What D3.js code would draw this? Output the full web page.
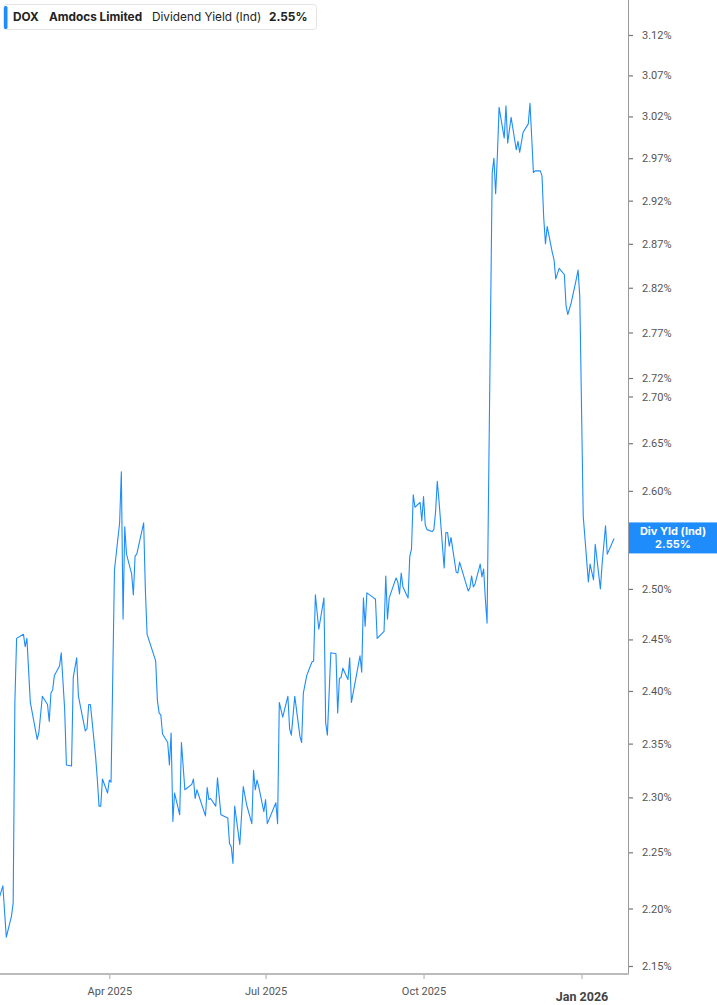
<!DOCTYPE html>
<html>
<head>
<meta charset="utf-8">
<script src="https://cdn.jsdelivr.net/npm/d3@7/dist/d3.min.js"></script>
<style>
  html, body { margin: 0; padding: 0; background: #fff; }
  svg { display: block; font-family: Inter, "Noto Sans", sans-serif; }
</style>
</head>
<body>
<svg id="dox_chart"></svg>
<script>
// DOX dividend yield (ind), daily closes
var dates = [
  "2025-01-27","2025-01-29","2025-01-31","2025-02-03","2025-02-04","2025-02-05","2025-02-06","2025-02-10",
  "2025-02-11","2025-02-12","2025-02-14","2025-02-18","2025-02-19","2025-02-21","2025-02-24","2025-02-25",
  "2025-02-26","2025-02-27","2025-02-28","2025-03-03","2025-03-04","2025-03-06","2025-03-07","2025-03-10",
  "2025-03-11","2025-03-13","2025-03-14","2025-03-18","2025-03-19","2025-03-20","2025-03-21","2025-03-24",
  "2025-03-25","2025-03-26","2025-03-27","2025-03-28","2025-03-31","2025-04-01","2025-04-02","2025-04-04",
  "2025-04-07","2025-04-08","2025-04-09","2025-04-10","2025-04-11","2025-04-14","2025-04-15","2025-04-16",
  "2025-04-17","2025-04-21","2025-04-22","2025-04-23","2025-04-28","2025-04-29","2025-04-30","2025-05-01",
  "2025-05-02","2025-05-05","2025-05-06","2025-05-07","2025-05-08","2025-05-09","2025-05-12","2025-05-13",
  "2025-05-15","2025-05-19","2025-05-20","2025-05-21","2025-05-22","2025-05-27","2025-05-28","2025-05-29",
  "2025-05-30","2025-06-02","2025-06-03","2025-06-05","2025-06-09","2025-06-10","2025-06-11","2025-06-12",
  "2025-06-13","2025-06-16","2025-06-18","2025-06-20","2025-06-23","2025-06-24","2025-06-25","2025-06-26",
  "2025-06-27","2025-06-30","2025-07-01","2025-07-02","2025-07-07","2025-07-08","2025-07-09","2025-07-11",
  "2025-07-14","2025-07-15","2025-07-16","2025-07-18","2025-07-21","2025-07-22","2025-07-23","2025-07-25",
  "2025-07-28","2025-07-29","2025-07-30","2025-08-01","2025-08-04","2025-08-05","2025-08-06","2025-08-08",
  "2025-08-11","2025-08-12","2025-08-13","2025-08-14","2025-08-15","2025-08-18","2025-08-19","2025-08-20",
  "2025-08-25","2025-08-26","2025-08-27","2025-08-28","2025-08-29","2025-09-02","2025-09-03","2025-09-04",
  "2025-09-08","2025-09-09","2025-09-10","2025-09-11","2025-09-15","2025-09-16","2025-09-17","2025-09-18",
  "2025-09-19","2025-09-22","2025-09-23","2025-09-24","2025-09-25","2025-09-26","2025-09-29","2025-09-30",
  "2025-10-01","2025-10-02","2025-10-03","2025-10-06","2025-10-07","2025-10-08","2025-10-09","2025-10-10",
  "2025-10-13","2025-10-14","2025-10-15","2025-10-16","2025-10-17","2025-10-20","2025-10-21","2025-10-22",
  "2025-10-27","2025-10-28","2025-10-29","2025-10-30","2025-10-31","2025-11-03","2025-11-04","2025-11-05",
  "2025-11-06","2025-11-07","2025-11-10","2025-11-11","2025-11-12","2025-11-13","2025-11-14","2025-11-17",
  "2025-11-18","2025-11-19","2025-11-21","2025-11-24","2025-11-25","2025-11-26","2025-11-28","2025-12-01",
  "2025-12-02","2025-12-03","2025-12-04","2025-12-05","2025-12-08","2025-12-09","2025-12-10","2025-12-11",
  "2025-12-12","2025-12-15","2025-12-16","2025-12-17","2025-12-19","2025-12-22","2025-12-23","2025-12-24",
  "2025-12-26","2025-12-29","2025-12-30","2025-12-31","2026-01-02","2026-01-05","2026-01-06","2026-01-08",
  "2026-01-09","2026-01-12","2026-01-13","2026-01-15","2026-01-16","2026-01-20"
];
var yields = [
  2.210,2.220,2.175,2.193,2.205,2.390,2.451,2.455,
  2.443,2.451,2.389,2.354,2.361,2.395,2.387,2.371,
  2.398,2.401,2.415,2.424,2.437,2.382,2.330,2.329,
  2.413,2.432,2.395,2.362,2.364,2.387,2.387,2.338,
  2.317,2.292,2.292,2.317,2.304,2.316,2.314,2.519,
  2.567,2.620,2.470,2.563,2.535,2.515,2.494,2.533,
  2.535,2.567,2.499,2.455,2.429,2.391,2.379,2.377,
  2.359,2.351,2.330,2.360,2.278,2.304,2.284,2.351,
  2.307,2.312,2.317,2.299,2.307,2.283,2.309,2.298,
  2.299,2.292,2.318,2.284,2.281,2.258,2.255,2.240,
  2.292,2.257,2.310,2.293,2.276,2.325,2.307,2.316,
  2.310,2.287,2.298,2.276,2.295,2.276,2.389,2.375,
  2.395,2.364,2.358,2.395,2.357,2.351,2.398,2.415,
  2.428,2.429,2.494,2.460,2.491,2.370,2.358,2.437,
  2.436,2.379,2.412,2.413,2.422,2.411,2.432,2.389,
  2.434,2.418,2.491,2.463,2.496,2.491,2.490,2.451,
  2.458,2.513,2.470,2.491,2.511,2.507,2.495,2.516,
  2.502,2.491,2.533,2.540,2.596,2.583,2.588,2.569,
  2.594,2.565,2.560,2.558,2.560,2.578,2.610,2.590,
  2.521,2.557,2.557,2.543,2.552,2.517,2.516,2.527,
  2.498,2.501,2.513,2.502,2.505,2.525,2.512,2.520,
  2.490,2.466,2.953,2.970,2.928,2.973,3.031,2.994,
  3.033,2.988,3.019,2.980,2.990,2.977,3.001,3.011,
  3.036,2.995,2.953,2.955,2.955,2.949,2.900,2.870,
  2.890,2.860,2.852,2.830,2.842,2.835,2.800,2.790,
  2.803,2.830,2.840,2.810,2.574,2.507,2.525,2.509,
  2.545,2.500,2.525,2.564,2.535,2.551
];
var yTickValues = [2.15, 2.20, 2.25, 2.30, 2.35, 2.40, 2.45, 2.50, 2.55, 2.60, 2.65, 2.70,
                   2.72, 2.77, 2.82, 2.87, 2.92, 2.97, 3.02, 3.07, 3.12];
var ticker = "DOX";
var company = "Amdocs Limited";
var metric = "Dividend Yield (Ind)";
var badgeTitle = "Div Yld (Ind)";

var DoxChart = (function () {
    function DoxChart(width, height) {
        this.width = width;
        this.height = height;
        this.plotRight = 628;
        this.plotBottom = 974;
        this.blue = "#1e8cfa";
        this.svg = d3.select("svg#dox_chart").attr("width", width).attr("height", height);
        var parse = d3.timeParse("%Y-%m-%d");
        this.points = dates.map(function (d, i) { return { date: parse(d), value: yields[i] }; });
        this.last = this.points[this.points.length - 1];
        this.x = d3.scaleTime()
            .domain([new Date(2025, 0, 27, 8), new Date(2026, 0, 28, 2)])
            .range([0, this.plotRight]);
        this.y = d3.scaleLog().domain([2.15, 3.12]).range([966, 35]);
    }
    DoxChart.prototype.drawAxes = function () {
        var _this = this;
        // right value axis; the label under the last-value badge is hidden like on the source
        var yAxis = d3.axisRight(this.y).tickValues(yTickValues)
            .tickSize(4).tickPadding(9)
            .tickFormat(function (d) {
                return Math.abs(d - _this.last.value) < 0.015 ? "" : d.toFixed(2) + "%";
            });
        var gy = this.svg.append("g").attr("transform", "translate(" + (this.plotRight + 1) + ",0)").call(yAxis);
        gy.select(".domain").remove();
        gy.selectAll(".tick line").attr("stroke", "#777").attr("stroke-width", 1.2);
        gy.selectAll(".tick text").attr("fill", "#555").attr("font-size", 11)
            .attr("font-family", "Roboto, sans-serif");
        this.svg.append("line")
            .attr("x1", this.plotRight + 0.5).attr("x2", this.plotRight + 0.5)
            .attr("y1", 0).attr("y2", this.plotBottom + 1)
            .attr("stroke", "#999").attr("stroke-width", 1);

        // bottom time axis
        var xAxis = d3.axisBottom(this.x).ticks(d3.timeMonth.every(3))
            .tickSize(5).tickPadding(8)
            .tickFormat(d3.timeFormat("%b %Y"));
        var gx = this.svg.append("g").attr("transform", "translate(0," + this.plotBottom + ")").call(xAxis);
        gx.select(".domain").remove();
        gx.selectAll(".tick line").attr("stroke", "#aaa");
        gx.selectAll(".tick text")
            .attr("fill", "#555").attr("font-size", 11)
            .attr("font-family", "Roboto, sans-serif")
            .each(function (d) {
                if (d.getMonth() === 0) {
                    d3.select(this).attr("font-weight", "bold").attr("font-size", 12.5)
                        .attr("fill", "#444").attr("dy", "1.15em");
                }
            });
        this.svg.append("line")
            .attr("x1", 0).attr("x2", this.plotRight + 1)
            .attr("y1", this.plotBottom).attr("y2", this.plotBottom)
            .attr("stroke", "#bbb").attr("stroke-width", 2);
    };
    DoxChart.prototype.drawLine = function () {
        var _this = this;
        this.svg.append("clipPath").attr("id", "plot_clip").append("rect")
            .attr("x", 0).attr("y", 0).attr("width", this.plotRight).attr("height", this.plotBottom);
        var line = d3.line()
            .x(function (d) { return _this.x(d.date); })
            .y(function (d) { return _this.y(d.value); });
        this.svg.append("path").datum(this.points)
            .attr("clip-path", "url(#plot_clip)")
            .attr("fill", "none").attr("stroke", this.blue)
            .attr("stroke-width", 1.1).attr("stroke-linejoin", "round")
            .attr("d", line);
    };
    DoxChart.prototype.drawBadge = function () {
        var cy = this.y(this.last.value);
        var g = this.svg.append("g");
        g.append("rect").attr("x", this.plotRight + 1).attr("y", cy - 16)
            .attr("width", this.width - this.plotRight - 1).attr("height", 31)
            .attr("fill", this.blue);
        var cx = this.plotRight + 1 + (this.width - this.plotRight - 1) / 2;
        g.append("text").attr("x", cx).attr("y", cy - 3).attr("text-anchor", "middle")
            .attr("fill", "#fff").attr("font-size", 11).attr("font-weight", "bold")
            .text(badgeTitle);
        g.append("text").attr("x", cx).attr("y", cy + 10).attr("text-anchor", "middle")
            .attr("fill", "#fff").attr("font-size", 11).attr("font-weight", "bold")
            .text(this.last.value.toFixed(2) + "%");
    };
    DoxChart.prototype.drawLegend = function () {
        var g = this.svg.append("g");
        g.append("rect").attr("x", 3.5).attr("y", 4.5).attr("width", 313).attr("height", 25)
            .attr("rx", 3).attr("fill", "#fff").attr("stroke", "#e4e4e4");
        g.append("rect").attr("x", 4).attr("y", 6).attr("width", 3.5).attr("height", 23)
            .attr("rx", 1.5).attr("fill", this.blue);
        var items = [
            { x: 13, text: ticker, bold: true },
            { x: 49, text: company, bold: true },
            { x: 152, text: metric, bold: false },
            { x: 269, text: this.last.value.toFixed(2) + "%", bold: true }
        ];
        g.selectAll("text.legend").data(items).enter().append("text")
            .attr("class", "legend")
            .attr("x", function (d) { return d.x; }).attr("y", 21)
            .attr("font-size", 11.8)
            .attr("font-weight", function (d) { return d.bold ? "bold" : "normal"; })
            .attr("fill", "#222")
            .text(function (d) { return d.text; });
    };
    return DoxChart;
})();

window.addEventListener("load", function () {
    var chart = new DoxChart(717, 1005);
    chart.drawLine();
    chart.drawAxes();
    chart.drawBadge();
    chart.drawLegend();
});
</script>
</body>
</html>
